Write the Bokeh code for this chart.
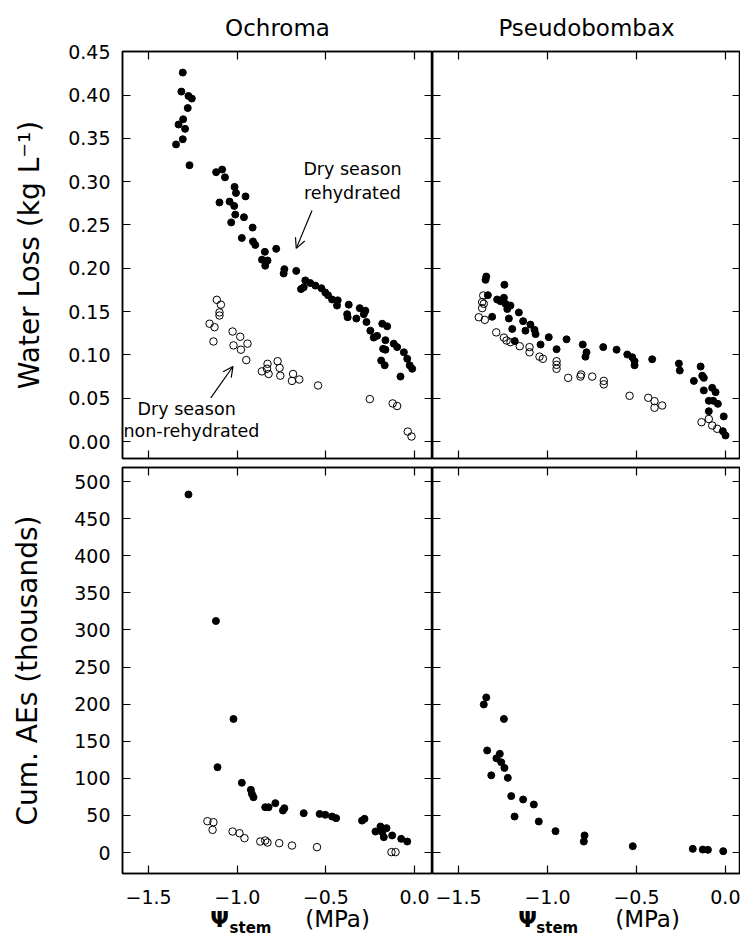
from bokeh.plotting import figure
from bokeh.layouts import column, row
from bokeh.models import (Range1d, FixedTicker, LinearAxis, PrintfTickFormatter,
                          CustomJSTickFormatter, CustomLabelingPolicy, Label, Arrow, OpenHead)
from bokeh.embed import file_html
from bokeh.resources import INLINE

FONT = "DejaVu Sans"

# ---------------- data ----------------
och_wl_reh_x = [-1.307, -1.315, -1.275, -1.256, -1.279, -1.305, -1.331, -1.294, -1.307, -1.345,
                -1.269, -1.119, -1.085, -1.069, -1.100, -1.015, -1.007, -1.043, -1.017, -0.953,
                -1.011, -0.962, -1.034, -0.913, -0.974, -0.911, -0.898, -0.844, -0.860,
                -0.780, -0.829, -0.842, -0.734, -0.738, -0.667, -0.616, -0.588, -0.625, -0.640,
                -0.559, -0.525, -0.503, -0.488, -0.465, -0.433, -0.437, -0.371, -0.380, -0.377,
                -0.309, -0.277, -0.286, -0.328, -0.271, -0.249, -0.230, -0.211, -0.182, -0.154,
                -0.164, -0.177, -0.164, -0.117, -0.098, -0.060, -0.041, -0.013, -0.027, -0.188,
                -0.168, -0.079]
och_wl_reh_y = [0.426, 0.404, 0.399, 0.396, 0.385, 0.372, 0.366, 0.361, 0.349, 0.343,
                0.319, 0.311, 0.314, 0.305, 0.276, 0.294, 0.287, 0.277, 0.272, 0.283,
                0.262, 0.259, 0.253, 0.247, 0.235, 0.231, 0.227, 0.219, 0.210,
                0.2225, 0.209, 0.203, 0.199, 0.194, 0.197, 0.186, 0.183, 0.178, 0.176,
                0.180, 0.177, 0.172, 0.169, 0.164, 0.163, 0.157, 0.158, 0.147, 0.1435,
                0.154, 0.151, 0.147, 0.142, 0.138, 0.128, 0.120, 0.122, 0.136, 0.133,
                0.117, 0.107, 0.106, 0.113, 0.109, 0.103, 0.0955, 0.084, 0.088, 0.0935,
                0.088, 0.075]

och_wl_non_x = [-1.115, -1.092, -1.100, -1.100, -1.156, -1.128, -1.134, -1.026, -0.983, -1.021,
                -0.979, -0.942, -0.949, -0.861, -0.829, -0.832, -0.823, -0.772, -0.761, -0.757,
                -0.685, -0.691, -0.650, -0.544, -0.252, -0.123, -0.098, -0.038, -0.017]
och_wl_non_y = [0.1636, 0.158, 0.149, 0.1455, 0.136, 0.132, 0.1155, 0.127, 0.121, 0.111,
                0.106, 0.113, 0.094, 0.081, 0.0897, 0.084, 0.078, 0.0927, 0.085, 0.076,
                0.078, 0.070, 0.0716, 0.0647, 0.049, 0.044, 0.041, 0.0115, 0.0058]

pse_wl_reh_x = [-1.344, -1.348, -1.242, -1.335, -1.283, -1.264, -1.245, -1.236, -1.208, -1.226,
                -1.161, -1.311, -1.217, -1.137, -1.096, -1.073, -1.124, -1.198, -1.067, -1.184,
                -1.039, -0.993, -0.949, -0.893, -0.802, -0.781, -0.787, -0.687, -0.612, -0.552,
                -0.524, -0.511, -0.511, -0.412, -0.262, -0.257, -0.140, -0.131, -0.122, -0.178,
                -0.122, -0.075, -0.056, -0.094, -0.069, -0.043, -0.094, -0.010, -0.015, 0.0]
pse_wl_reh_y = [0.1905, 0.1867, 0.181, 0.169, 0.164, 0.162, 0.166, 0.159, 0.157, 0.153,
                0.149, 0.144, 0.142, 0.139, 0.135, 0.129, 0.128, 0.130, 0.124, 0.116,
                0.112, 0.1205, 0.1066, 0.118, 0.112, 0.103, 0.098, 0.109, 0.106, 0.1005,
                0.0973, 0.0927, 0.088, 0.095, 0.090, 0.082, 0.0866, 0.076, 0.0735, 0.070,
                0.059, 0.062, 0.057, 0.047, 0.047, 0.0435, 0.035, 0.029, 0.012, 0.007]

pse_wl_non_x = [-1.361, -1.367, -1.358, -1.367, -1.386, -1.352, -1.288, -1.245, -1.230, -1.208,
                -1.156, -1.101, -1.101, -1.045, -1.026, -0.949, -0.949, -0.949, -0.884, -0.811,
                -0.815, -0.749, -0.684, -0.684, -0.539, -0.434, -0.399, -0.356, -0.399, -0.135,
                -0.094, -0.075, -0.047]
pse_wl_non_y = [0.1686, 0.161, 0.159, 0.154, 0.1435, 0.1405, 0.126, 0.120, 0.1166, 0.1147,
                0.110, 0.109, 0.103, 0.098, 0.0955, 0.0927, 0.0885, 0.084, 0.0735, 0.0774,
                0.075, 0.075, 0.070, 0.066, 0.0528, 0.0505, 0.0466, 0.0416, 0.039, 0.0223,
                0.026, 0.0185, 0.0147]

och_ae_reh_x = [-1.275, -1.120, -1.021, -1.111, -0.974, -0.923, -0.917, -0.908, -0.842, -0.823,
                -0.785, -0.742, -0.734, -0.625, -0.535, -0.503, -0.465, -0.442, -0.296, -0.282,
                -0.220, -0.192, -0.182, -0.173, -0.158, -0.126, -0.075, -0.041]
och_ae_reh_y = [482.5, 312, 180, 115, 94, 84.5, 79, 74.5, 61, 61,
                66.5, 56.6, 59.7, 53, 52, 50.8, 48.5, 46.3, 43, 45.4,
                28.3, 35, 27.4, 20.7, 32.8, 23, 18.4, 14.8]

och_ae_non_x = [-1.168, -1.134, -1.139, -1.026, -0.987, -0.959, -0.870, -0.842, -0.829, -0.763,
                -0.691, -0.550, -0.130, -0.107]
och_ae_non_y = [42.2, 40.8, 30.5, 28.3, 26, 19.3, 14.8, 16.2, 13.5, 12.6,
                9.4, 7.2, 0.5, 0.5]

pse_ae_reh_x = [-1.344, -1.358, -1.245, -1.339, -1.268, -1.287, -1.260, -1.242, -1.316, -1.223,
                -1.204, -1.137, -1.077, -1.185, -1.049, -0.955, -0.792, -0.796, -0.521, -0.184,
                -0.128, -0.099, -0.013]
pse_ae_reh_y = [209, 199.5, 180, 137.5, 133, 127, 121.7, 114, 104, 100.6,
                76, 71.4, 64.7, 48.5, 41.8, 28.8, 23, 14.8, 8.5, 4.9,
                4, 3.6, 1.8]

x_ticks = [-1.5, -1.0, -0.5, 0.0]
wl_ticks = [0.00, 0.05, 0.10, 0.15, 0.20, 0.25, 0.30, 0.35, 0.40, 0.45]
ae_ticks = [0, 50, 100, 150, 200, 250, 300, 350, 400, 450, 500]
titles = ["Ochroma", "Pseudobombax"]
wl_label = "Water Loss (kg L\u207b\u00b9)"
ae_label = "Cum. AEs (thousands)"

# ---------------- styling helpers ----------------
xfmt = CustomJSTickFormatter(code="return tick.toFixed(1).replace('-', '\u2212');")
NO_LABELS_CODE = """
try { for (const i of Array.from(indices)) { indices.unset(i) } } catch (e) {}
return indices;
"""


def style_axis(ax, ticks, show_labels, formatter=None, standoff=12):
    ax.ticker = FixedTicker(ticks=ticks)
    ax.major_tick_in = 8
    ax.major_tick_out = 0
    ax.minor_tick_in = 0
    ax.minor_tick_out = 0
    ax.major_tick_line_color = "black"
    ax.major_tick_line_width = 1.2
    ax.axis_line_color = "black"
    ax.axis_line_width = 1.5
    if formatter is not None:
        ax.formatter = formatter
    if show_labels:
        ax.major_label_text_font = FONT
        ax.major_label_text_font_size = "19px"
        ax.major_label_text_color = "black"
        ax.major_label_standoff = standoff
    else:
        ax.major_label_text_font_size = "0px"
        ax.major_label_standoff = 0
        ax.major_label_policy = CustomLabelingPolicy(code=NO_LABELS_CODE)


def make_panel(width, height, xr, yr, borders, yticks, yfmt, show_y):
    bl, br, bt, bb = borders
    p = figure(width=width, height=height, x_range=Range1d(*xr), y_range=Range1d(*yr),
               output_backend="svg", toolbar_location=None,
               min_border_left=bl, min_border_right=br, min_border_top=bt, min_border_bottom=bb)
    p.grid.visible = False
    p.outline_line_color = "black"
    p.outline_line_width = 1.5
    p.background_fill_color = "white"
    p.border_fill_color = "white"
    style_axis(p.xaxis[0], x_ticks, False, xfmt)
    style_axis(p.yaxis[0], yticks, show_y, yfmt)
    top = LinearAxis()
    style_axis(top, x_ticks, False)
    p.add_layout(top, "above")
    right = LinearAxis()
    style_axis(right, yticks, False)
    p.add_layout(right, "right")
    return p


def make_label_strip(width, height, xr, bl, top_border, frame_h):
    """Strip under a bottom panel: carries the x tick labels and the x-axis title."""
    p = figure(width=width, height=height, x_range=Range1d(*xr), y_range=Range1d(0, frame_h),
               output_backend="svg", toolbar_location=None,
               x_axis_location="above", y_axis_location=None,
               min_border_left=bl, min_border_right=0, min_border_top=top_border,
               min_border_bottom=0)
    p.grid.visible = False
    p.outline_line_color = None
    p.background_fill_color = "white"
    p.border_fill_color = "white"
    ax = p.xaxis[0]
    ax.ticker = FixedTicker(ticks=x_ticks)
    ax.formatter = xfmt
    ax.axis_line_color = None
    ax.major_tick_line_color = None
    ax.minor_tick_line_color = None
    ax.major_tick_in = 0
    ax.major_tick_out = 0
    ax.minor_tick_in = 0
    ax.minor_tick_out = 0
    ax.major_label_text_font = FONT
    ax.major_label_text_font_size = "19px"
    ax.major_label_text_color = "black"
    ax.major_label_standoff = 2
    return p


xr_left = (-1.647, 0.1015)
xr_right = (-1.646, 0.084)
yr_wl = (-0.0196, 0.4503)
yr_ae = (-28.3, 518.9)
wl_fmt = PrintfTickFormatter(format="%.2f")
ae_fmt = PrintfTickFormatter(format="%d")

p1 = make_panel(432, 462, xr_left, yr_wl, (122, 0, 51, 4), wl_ticks, wl_fmt, True)
p2 = make_panel(308, 462, xr_right, yr_wl, (0, 0, 51, 4), wl_ticks, wl_fmt, False)
p3 = make_panel(432, 413, xr_left, yr_ae, (122, 0, 5, 2), ae_ticks, ae_fmt, True)
p4 = make_panel(308, 413, xr_right, yr_ae, (0, 0, 5, 2), ae_ticks, ae_fmt, False)
p5 = make_label_strip(432, 61, xr_left, 122, 30, 31)
p6 = make_label_strip(308, 61, xr_right, 0, 30, 31)

for p, t in ((p1, titles[0]), (p2, titles[1])):
    p.title.text = t
    p.title.align = "center"
    p.title.text_font = FONT
    p.title.text_font_size = "23px"
    p.title.text_font_style = "normal"
    p.title.text_color = "black"
    p.title.standoff = 21

for p, lab, so in ((p1, wl_label, 19), (p3, ae_label, 27)):
    ax = p.yaxis[0]
    ax.axis_label = lab
    ax.axis_label_text_font = FONT
    ax.axis_label_text_font_size = "28px"
    ax.axis_label_text_font_style = "normal"
    ax.axis_label_text_color = "black"
    ax.axis_label_standoff = so

# ---------------- markers ----------------
def filled(p, x, y):
    p.scatter(x, y, marker="circle", size=7, fill_color="black", line_color="black")


def hollow(p, x, y):
    p.scatter(x, y, marker="circle", size=7.5, fill_color=None, line_color="black", line_width=1)


hollow(p1, och_wl_non_x, och_wl_non_y)
filled(p1, och_wl_reh_x, och_wl_reh_y)
hollow(p2, pse_wl_non_x, pse_wl_non_y)
filled(p2, pse_wl_reh_x, pse_wl_reh_y)
hollow(p3, och_ae_non_x, och_ae_non_y)
filled(p3, och_ae_reh_x, och_ae_reh_y)
filled(p4, pse_ae_reh_x, pse_ae_reh_y)

# ---------------- annotations ----------------
def txt(p, x, y, s, size="17.5px", align="center", style="normal"):
    p.add_layout(Label(x=x, y=y, text=s, text_font=FONT, text_font_size=size,
                       text_font_style=style,
                       text_align=align, text_baseline="middle", text_color="black"))


txt(p1, -0.350, 0.315, "Dry season")
txt(p1, -0.350, 0.2875, "rehydrated")
txt(p1, -1.285, 0.0381, "Dry season")
txt(p1, -1.258, 0.0127, "non-rehydrated")

p1.add_layout(Arrow(end=OpenHead(size=10, line_width=1.2, line_color="black"),
                    x_start=-0.578, y_start=0.2667, x_end=-0.667, y_end=0.223,
                    line_width=1.2, line_color="black"))
p1.add_layout(Arrow(end=OpenHead(size=10, line_width=1.2, line_color="black"),
                    x_start=-1.149, y_start=0.0505, x_end=-1.024, y_end=0.0866,
                    line_width=1.2, line_color="black"))

# x-axis titles: Psi with subscript "stem"
for p, xs in ((p5, (-1.10, -0.925, -0.434)), (p6, (-1.112, -0.945, -0.438))):
    txt(p, xs[0], 17.5, "\u03a8", size="22px", style="bold")
    txt(p, xs[1], 8.5, "stem", size="15px", style="bold")
    txt(p, xs[2], 17.5, "(MPa)", size="23px")

layout = column(row(p1, p2, spacing=0), row(p3, p4, spacing=0), row(p5, p6, spacing=0), spacing=0)

with open("out.html", "w") as f:
    f.write(file_html(layout, INLINE))
